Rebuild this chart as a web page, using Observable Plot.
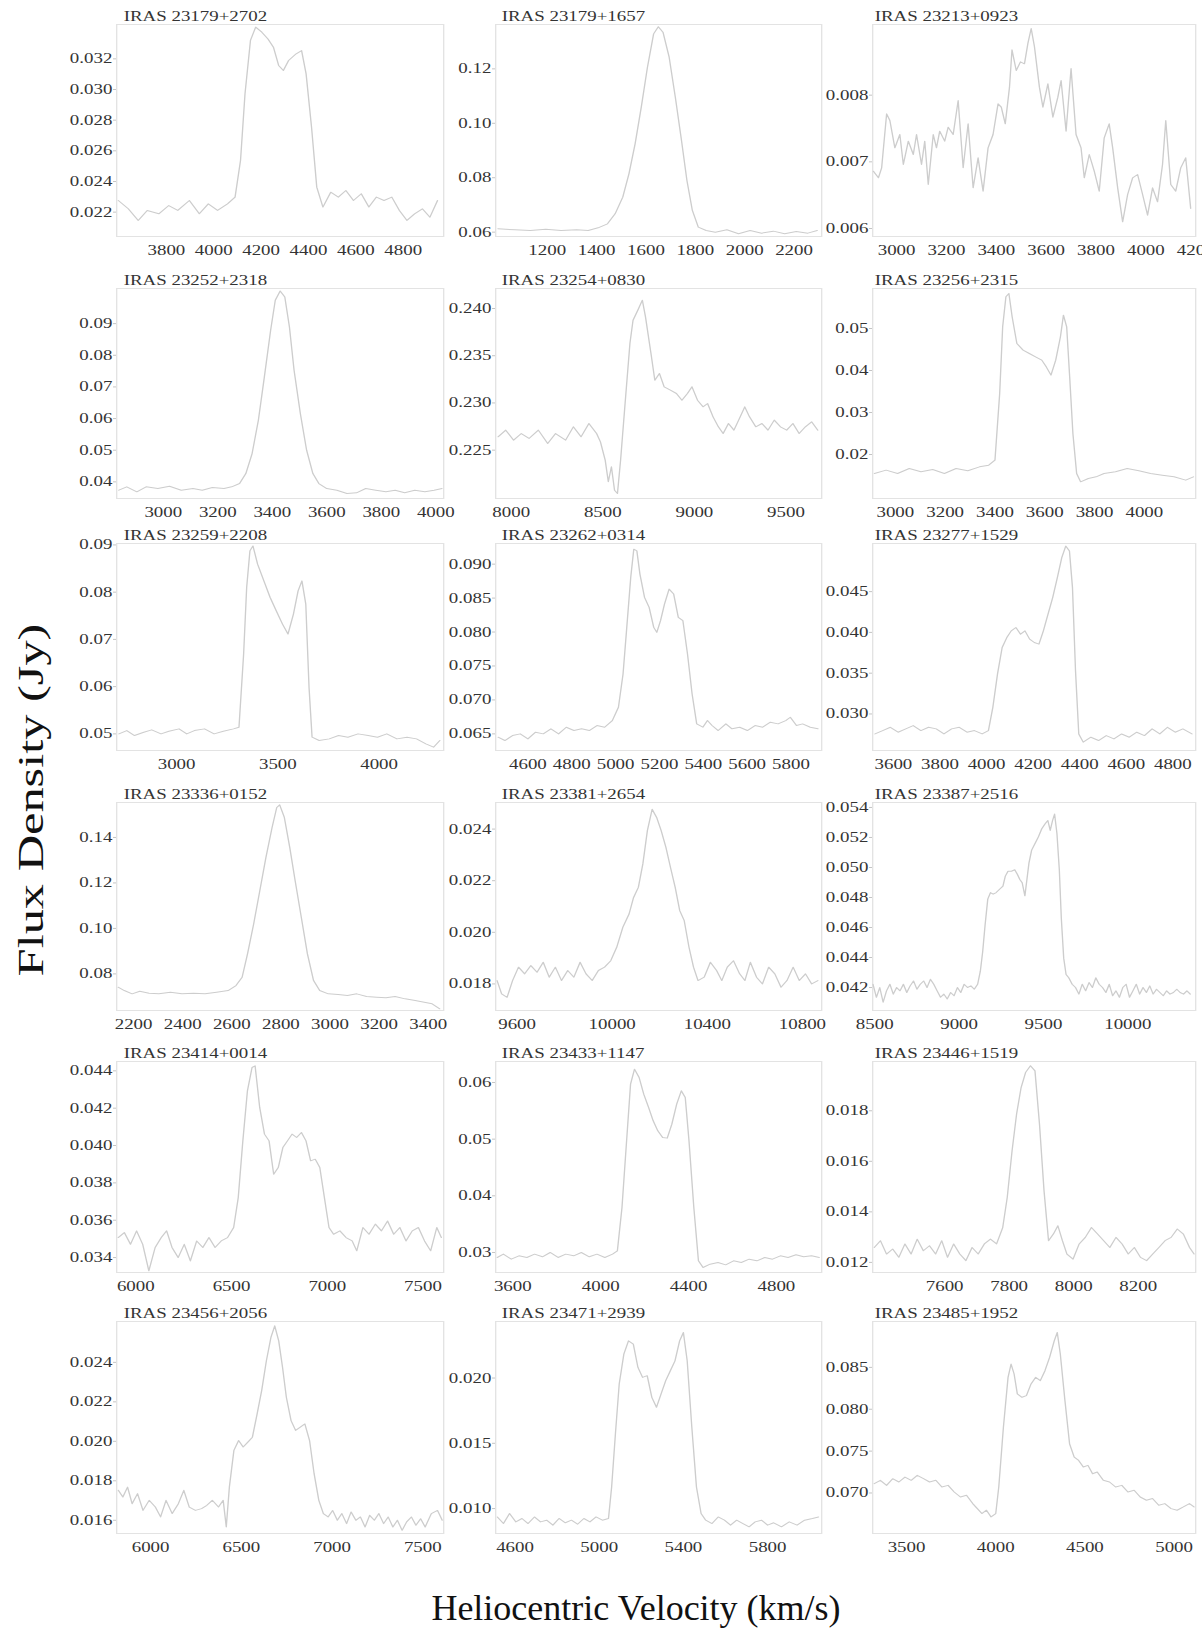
<!DOCTYPE html>
<html><head><meta charset="utf-8">
<script src="https://cdn.jsdelivr.net/npm/d3@7"></script>
<script src="https://cdn.jsdelivr.net/npm/@observablehq/plot@0.6"></script>
<style>
html,body{margin:0;padding:0;background:#fff;overflow:hidden;}
#page{position:relative;width:1202px;height:1631px;overflow:hidden;font-family:'Liberation Serif','Times New Roman',serif;background:#fff;}
.axlab{position:absolute;font-size:36px;color:#111;white-space:nowrap;line-height:1;font-family:'Liberation Serif','Times New Roman',serif;}
</style></head><body><div id="page"></div>
<script>
const titles = ["IRAS 23179+2702","IRAS 23179+1657","IRAS 23213+0923","IRAS 23252+2318","IRAS 23254+0830","IRAS 23256+2315","IRAS 23259+2208","IRAS 23262+0314","IRAS 23277+1529","IRAS 23336+0152","IRAS 23381+2654","IRAS 23387+2516","IRAS 23414+0014","IRAS 23433+1147","IRAS 23446+1519","IRAS 23456+2056","IRAS 23471+2939","IRAS 23485+1952"];

const v01=[3597,3639,3681,3719,3768,3810,3848,3897,3939,3977,4016,4058,4090,4113,4132,4155,4177,4203,4229,4252,4274,4294,4316,4348,4371,4390,4413,4435,4461,4494,4526,4558,4590,4623,4655,4687,4719,4752,4784,4816,4848,4881,4913,4945];
const f01=[0.02276,0.02222,0.02146,0.02211,0.02189,0.02243,0.02211,0.02276,0.02189,0.02254,0.02211,0.02254,0.02298,0.02537,0.02972,0.0332,0.03407,0.03374,0.0333,0.03276,0.03157,0.03124,0.03189,0.03233,0.03254,0.03102,0.02754,0.02363,0.02233,0.0233,0.02298,0.02341,0.02276,0.0232,0.02233,0.02298,0.02276,0.02298,0.02211,0.02146,0.02189,0.02222,0.02167,0.02276];
const v02=[1000,1069,1131,1194,1256,1319,1366,1406,1444,1475,1506,1531,1556,1581,1606,1631,1650,1669,1694,1719,1744,1766,1788,1812,1844,1881,1928,1975,2022,2069,2116,2162,2209,2256,2294];
const f02=[0.06123,0.06087,0.06061,0.0611,0.06061,0.06086,0.06061,0.06159,0.06306,0.06674,0.07286,0.08143,0.09245,0.10592,0.12061,0.13286,0.1355,0.13347,0.12429,0.10959,0.09367,0.07898,0.06796,0.06184,0.06061,0.06,0.06086,0.05939,0.06061,0.05963,0.06037,0.05939,0.06025,0.05963,0.06061];
const v03=[2907,2927,2940,2960,2973,2993,3013,3027,3047,3067,3080,3100,3113,3127,3147,3160,3173,3193,3207,3227,3247,3267,3287,3307,3327,3347,3367,3387,3407,3420,3436,3453,3463,3480,3497,3513,3527,3540,3553,3573,3587,3607,3627,3647,3660,3680,3700,3720,3740,3753,3773,3793,3813,3833,3853,3867,3887,3907,3927,3947,3967,3987,4007,4027,4047,4067,4080,4100,4120,4140,4160,4180];
const f03=[0.00686,0.00676,0.00691,0.00772,0.00762,0.00721,0.00741,0.00696,0.00731,0.00711,0.00741,0.00696,0.00731,0.00666,0.00741,0.00721,0.00746,0.00731,0.00752,0.00741,0.00792,0.00691,0.00757,0.00661,0.00706,0.00656,0.00721,0.00741,0.00787,0.00782,0.00757,0.00812,0.00868,0.00837,0.0085,0.00847,0.00878,0.009,0.00873,0.00812,0.00782,0.00817,0.00767,0.00797,0.00822,0.00746,0.0084,0.00741,0.00721,0.00676,0.00711,0.00686,0.00656,0.00736,0.00757,0.00721,0.00661,0.0061,0.00651,0.00676,0.00681,0.00651,0.0062,0.00661,0.0064,0.00696,0.00762,0.00666,0.00656,0.00691,0.00706,0.0063];
const v04=[2837,2866,2903,2937,2980,3023,3066,3109,3143,3180,3223,3251,3280,3303,3326,3349,3371,3394,3411,3429,3446,3463,3480,3503,3526,3549,3571,3600,3637,3674,3709,3743,3780,3817,3851,3886,3923,3960,3994,4023];
const f04=[0.03737,0.03842,0.03684,0.03842,0.03789,0.03863,0.03737,0.03789,0.03737,0.03821,0.03789,0.03842,0.03947,0.04263,0.04895,0.05947,0.07316,0.08789,0.09737,0.1003,0.09842,0.08895,0.07526,0.06158,0.05,0.04263,0.03947,0.03789,0.03737,0.03632,0.03653,0.03789,0.03737,0.03684,0.03737,0.03653,0.03737,0.03684,0.03737,0.03789];
const v05=[7928,7970,8013,8055,8097,8148,8199,8242,8297,8339,8381,8424,8466,8487,8513,8530,8547,8564,8580,8597,8623,8648,8665,8691,8716,8733,8763,8784,8809,8835,8869,8902,8932,8962,8987,9017,9047,9072,9102,9131,9157,9186,9216,9250,9275,9301,9335,9369,9402,9436,9470,9504,9538,9572,9606,9640,9674];
const f05=[0.22641,0.22712,0.22606,0.22676,0.22624,0.22712,0.22571,0.22676,0.22606,0.22747,0.22641,0.22782,0.22676,0.22588,0.22394,0.22165,0.22324,0.22076,0.22041,0.22394,0.23029,0.23629,0.23876,0.23982,0.24088,0.23912,0.23524,0.23241,0.23312,0.23171,0.23135,0.231,0.23029,0.231,0.23171,0.23029,0.22959,0.22994,0.22853,0.22747,0.22676,0.22782,0.22712,0.22853,0.22959,0.22853,0.22747,0.22782,0.22712,0.22818,0.22747,0.22712,0.22782,0.22676,0.22747,0.228,0.22712];
const v06=[2916,2963,3009,3056,3103,3150,3197,3244,3291,3338,3375,3400,3419,3431,3444,3456,3469,3488,3513,3538,3563,3588,3606,3625,3644,3663,3675,3688,3700,3713,3728,3744,3775,3806,3838,3884,3931,3978,4025,4072,4119,4166,4197];
const f06=[0.01548,0.01627,0.01548,0.01667,0.01587,0.01643,0.01548,0.01667,0.01611,0.01706,0.01746,0.01865,0.03452,0.0504,0.05754,0.05833,0.05278,0.04643,0.04484,0.04405,0.04325,0.04246,0.04087,0.03889,0.04246,0.04802,0.05317,0.0504,0.03849,0.025,0.01548,0.01349,0.01429,0.01468,0.01548,0.01587,0.01667,0.01611,0.01548,0.01508,0.01468,0.01389,0.01468];
const v07=[2715,2754,2792,2838,2877,2923,2962,3012,3050,3088,3138,3185,3231,3281,3308,3331,3346,3362,3377,3400,3431,3462,3492,3523,3550,3577,3600,3619,3638,3654,3669,3704,3754,3800,3846,3896,3946,3992,4038,4088,4138,4185,4231,4269,4300];
const f07=[0.05,0.0507,0.04965,0.05035,0.05085,0.05,0.05056,0.05106,0.05,0.0507,0.05106,0.05,0.05056,0.05106,0.05141,0.0669,0.08099,0.08873,0.08979,0.08592,0.08239,0.07887,0.07606,0.07324,0.07113,0.07535,0.08028,0.08239,0.07746,0.05986,0.0493,0.04859,0.04894,0.04965,0.0493,0.05,0.04965,0.0493,0.05,0.04894,0.0493,0.04894,0.04789,0.04718,0.04859];
const v08=[4464,4495,4530,4565,4600,4635,4670,4705,4740,4775,4810,4845,4880,4915,4950,4985,5013,5034,5051,5069,5083,5097,5111,5132,5153,5174,5188,5205,5223,5244,5265,5286,5307,5328,5349,5370,5398,5419,5440,5468,5503,5531,5566,5601,5636,5671,5706,5741,5776,5797,5825,5853,5888,5923];
const f08=[0.06451,0.06402,0.06475,0.065,0.06426,0.06525,0.065,0.06574,0.065,0.06598,0.06549,0.06574,0.06549,0.06623,0.06598,0.06696,0.06892,0.07382,0.08069,0.08804,0.09221,0.09196,0.08853,0.0851,0.08363,0.08069,0.07995,0.08167,0.08412,0.08632,0.08559,0.08216,0.08167,0.07676,0.07088,0.06647,0.06598,0.06696,0.06623,0.06549,0.06647,0.06574,0.06598,0.06549,0.06623,0.06598,0.06672,0.06647,0.06696,0.06745,0.06623,0.06647,0.06598,0.06574];
const v09=[3521,3554,3587,3620,3653,3685,3718,3751,3784,3817,3850,3883,3916,3948,3981,4008,4027,4047,4067,4087,4106,4126,4146,4165,4185,4205,4225,4244,4264,4284,4304,4323,4340,4356,4369,4382,4396,4415,4448,4481,4514,4547,4580,4613,4645,4678,4711,4744,4777,4810,4843,4882];
const f09=[0.02755,0.02796,0.02837,0.02776,0.02817,0.02857,0.02796,0.02837,0.02817,0.02755,0.02817,0.02837,0.02776,0.02796,0.02755,0.02796,0.03081,0.03489,0.03815,0.03937,0.04019,0.0406,0.03978,0.04019,0.03917,0.03876,0.03856,0.04019,0.04223,0.04427,0.04671,0.04916,0.05058,0.04997,0.04549,0.0353,0.02755,0.02654,0.02715,0.02674,0.02735,0.02694,0.02755,0.02715,0.02776,0.02735,0.02817,0.02755,0.02837,0.02776,0.02817,0.02755];
const v10=[2137,2162,2194,2225,2263,2303,2350,2397,2444,2491,2538,2585,2617,2642,2664,2689,2714,2739,2764,2783,2795,2814,2836,2858,2883,2908,2933,2958,2993,3033,3071,3109,3149,3190,3228,3265,3306,3347,3384,3416,3447];
const f10=[0.07414,0.07268,0.07122,0.07239,0.07151,0.07122,0.07195,0.07122,0.07151,0.07122,0.07195,0.07268,0.07487,0.07853,0.08878,0.10195,0.11658,0.13122,0.14439,0.15317,0.15434,0.14878,0.13561,0.12097,0.10488,0.08878,0.07707,0.07268,0.07122,0.07092,0.07049,0.07122,0.07005,0.06975,0.06946,0.07005,0.06902,0.06829,0.06756,0.06683,0.06463];
const v11=[9516,9535,9558,9581,9606,9632,9658,9684,9710,9735,9761,9787,9813,9839,9865,9890,9916,9942,9968,9994,10019,10045,10071,10090,10110,10129,10148,10168,10187,10206,10226,10245,10265,10284,10303,10323,10342,10361,10387,10413,10439,10461,10484,10510,10536,10558,10581,10607,10632,10658,10684,10710,10735,10761,10787,10813,10839,10865];
const f11=[0.01813,0.01761,0.01748,0.01813,0.01865,0.01839,0.01871,0.01845,0.01884,0.01826,0.01865,0.01813,0.01852,0.01826,0.01884,0.01839,0.01813,0.01852,0.01865,0.0189,0.01942,0.0202,0.02071,0.02135,0.02174,0.02265,0.02394,0.02477,0.02445,0.02394,0.02329,0.02252,0.02174,0.02084,0.02045,0.01942,0.01865,0.01813,0.01826,0.01884,0.01852,0.01813,0.01865,0.0189,0.01839,0.01813,0.01884,0.01826,0.018,0.01865,0.01839,0.01787,0.01813,0.01865,0.01813,0.01839,0.018,0.01813];
const v12=[8490,8510,8530,8550,8570,8590,8610,8630,8650,8670,8690,8710,8730,8750,8770,8790,8810,8830,8850,8870,8890,8910,8930,8950,8970,8990,9010,9030,9050,9070,9090,9110,9126,9140,9154,9170,9186,9202,9220,9240,9260,9274,9290,9310,9330,9346,9360,9374,9390,9402,9414,9430,9450,9470,9490,9510,9526,9540,9554,9566,9580,9594,9606,9620,9634,9650,9670,9690,9710,9730,9750,9770,9790,9810,9830,9850,9870,9890,9910,9930,9950,9970,9990,10010,10030,10050,10070,10090,10110,10130,10150,10170,10190,10210,10230,10250,10270,10290,10310,10330,10350,10370];
const f12=[0.04222,0.04135,0.042,0.04102,0.04178,0.04222,0.04156,0.042,0.04178,0.04222,0.04167,0.04211,0.04244,0.04189,0.04222,0.04244,0.042,0.04255,0.04222,0.04178,0.04135,0.04156,0.04124,0.04167,0.04145,0.042,0.04167,0.04222,0.042,0.04211,0.04189,0.04222,0.04309,0.0444,0.04615,0.04789,0.04833,0.04822,0.04833,0.04855,0.04876,0.04942,0.04975,0.04975,0.04985,0.04953,0.0492,0.04898,0.04811,0.0492,0.05029,0.05116,0.0516,0.05204,0.05258,0.05291,0.05313,0.05247,0.05313,0.05356,0.05225,0.04985,0.04658,0.04396,0.04287,0.04265,0.04222,0.042,0.04156,0.04222,0.04178,0.04233,0.042,0.04265,0.04222,0.042,0.04167,0.04222,0.04145,0.04178,0.04135,0.042,0.04222,0.04135,0.04178,0.04222,0.04156,0.042,0.04167,0.04211,0.04156,0.04189,0.04167,0.04145,0.04178,0.04156,0.04167,0.04189,0.04167,0.04156,0.04178,0.04156];
const v13=[5908,5940,5972,6004,6036,6068,6101,6133,6161,6189,6221,6253,6285,6318,6350,6382,6414,6446,6479,6511,6535,6559,6583,6607,6623,6647,6672,6696,6720,6744,6768,6792,6816,6840,6865,6889,6913,6937,6961,6985,7009,7033,7066,7098,7130,7154,7186,7218,7251,7283,7315,7347,7379,7411,7444,7476,7508,7540,7572,7596];
const f13=[0.03507,0.03534,0.03471,0.03543,0.03471,0.03329,0.03454,0.03507,0.03543,0.03454,0.034,0.03471,0.03382,0.03489,0.03454,0.03507,0.03454,0.03489,0.03507,0.03561,0.03721,0.04025,0.04293,0.04418,0.04427,0.04204,0.04061,0.04025,0.03846,0.03882,0.03989,0.04025,0.04061,0.04043,0.0407,0.04025,0.03918,0.03927,0.03882,0.03721,0.03561,0.03525,0.03543,0.03507,0.03489,0.03436,0.03561,0.03525,0.03579,0.03543,0.03596,0.03525,0.03561,0.03489,0.03543,0.03561,0.03489,0.03436,0.03561,0.03507];
const v14=[3529,3557,3593,3628,3664,3699,3735,3770,3806,3841,3877,3912,3948,3983,4019,4054,4076,4097,4118,4136,4154,4175,4196,4218,4239,4260,4282,4303,4324,4346,4367,4385,4402,4424,4445,4466,4498,4534,4569,4605,4640,4676,4711,4747,4782,4818,4853,4889,4924,4960,4995];
const f14=[0.02912,0.02971,0.02882,0.02941,0.02912,0.02971,0.02924,0.03,0.02912,0.02971,0.02941,0.03,0.02924,0.02971,0.02912,0.02971,0.03029,0.03794,0.04971,0.05971,0.06235,0.06088,0.05794,0.05559,0.05324,0.05147,0.05029,0.05018,0.05265,0.05618,0.05853,0.05735,0.04971,0.03794,0.02853,0.02735,0.02794,0.02824,0.02782,0.02853,0.02824,0.02882,0.02853,0.02912,0.02882,0.02941,0.02912,0.02959,0.02924,0.02941,0.02912];
const v15=[7382,7401,7420,7439,7458,7477,7496,7515,7534,7553,7572,7591,7609,7628,7647,7666,7685,7704,7723,7742,7761,7780,7794,7809,7823,7837,7851,7866,7880,7894,7908,7922,7937,7951,7965,7979,7998,8017,8036,8055,8074,8093,8112,8131,8150,8169,8188,8207,8226,8245,8264,8283,8302,8321,8340,8359,8373];
const f15=[0.01259,0.01286,0.01233,0.01253,0.0122,0.01273,0.01233,0.01292,0.01246,0.01266,0.01233,0.01286,0.0122,0.01273,0.01233,0.01207,0.01259,0.01233,0.01273,0.01292,0.01273,0.01338,0.01457,0.01642,0.01787,0.01892,0.01952,0.01978,0.01958,0.01747,0.01484,0.01286,0.01312,0.01345,0.01286,0.01233,0.01213,0.01273,0.01299,0.01338,0.01312,0.01286,0.01259,0.01299,0.01273,0.01233,0.01259,0.0122,0.01207,0.01233,0.01259,0.01286,0.01299,0.01332,0.01312,0.01259,0.01233];
const v16=[5822,5847,5873,5898,5928,5958,5992,6026,6055,6085,6119,6153,6183,6213,6247,6281,6310,6340,6374,6400,6417,6434,6459,6485,6510,6536,6561,6587,6612,6638,6663,6684,6706,6727,6748,6774,6799,6825,6850,6876,6901,6927,6952,6978,7003,7029,7054,7080,7105,7131,7156,7182,7207,7233,7258,7284,7309,7335,7360,7386,7411,7437,7462,7488,7513,7547,7581,7607];
const f16=[0.01752,0.01718,0.01768,0.01684,0.01735,0.0165,0.01701,0.01667,0.01617,0.01701,0.01634,0.01684,0.01752,0.01667,0.0165,0.01659,0.01676,0.01701,0.01667,0.01701,0.01566,0.01768,0.01954,0.02004,0.01971,0.01996,0.02021,0.02139,0.02257,0.02408,0.02526,0.02585,0.02509,0.02375,0.02223,0.02105,0.02055,0.02072,0.02088,0.02004,0.01836,0.01701,0.01634,0.01617,0.0165,0.016,0.01634,0.01583,0.01642,0.016,0.01617,0.01566,0.01625,0.016,0.01634,0.01583,0.01617,0.01566,0.016,0.01549,0.01592,0.01617,0.01575,0.01608,0.01566,0.01634,0.0165,0.016];
const v17=[4516,4545,4574,4604,4633,4662,4692,4721,4750,4780,4809,4839,4868,4897,4927,4956,4985,5015,5044,5059,5077,5095,5117,5139,5162,5184,5206,5228,5250,5272,5294,5316,5338,5360,5382,5400,5418,5440,5462,5484,5506,5536,5565,5595,5624,5653,5683,5712,5741,5771,5800,5829,5866,5903,5940,5976,6013,6042];
const f17=[0.00936,0.00885,0.00962,0.00898,0.00924,0.00885,0.00936,0.00898,0.00911,0.00873,0.00924,0.00891,0.00911,0.0088,0.00924,0.00898,0.00936,0.00911,0.00924,0.01165,0.01573,0.01954,0.02183,0.02285,0.0226,0.02081,0.02005,0.02018,0.01852,0.01776,0.01878,0.0198,0.02056,0.02132,0.02285,0.02349,0.02132,0.01623,0.01165,0.00962,0.00911,0.00885,0.00936,0.00911,0.00873,0.00911,0.00885,0.0086,0.00898,0.00911,0.00873,0.00891,0.0086,0.00898,0.00873,0.00911,0.00924,0.00936];
const v18=[3319,3353,3388,3422,3457,3491,3526,3560,3595,3629,3664,3698,3733,3767,3802,3836,3871,3897,3922,3948,3974,4000,4017,4043,4069,4086,4103,4121,4147,4172,4198,4224,4250,4276,4302,4328,4345,4362,4388,4414,4440,4465,4491,4517,4543,4569,4603,4638,4672,4707,4741,4776,4810,4845,4879,4914,4948,4983,5017,5052,5086,5112];
const f18=[0.07111,0.07151,0.07091,0.07171,0.07131,0.0719,0.07151,0.0721,0.07171,0.07131,0.07151,0.07071,0.07091,0.07012,0.06952,0.06972,0.06873,0.06813,0.06754,0.06794,0.06714,0.06754,0.07071,0.07786,0.08381,0.0854,0.08421,0.08183,0.08143,0.08163,0.08302,0.08381,0.08341,0.0846,0.08619,0.08817,0.08917,0.08659,0.08103,0.07587,0.07429,0.07389,0.0731,0.0733,0.0723,0.0725,0.07151,0.07131,0.07071,0.07091,0.07012,0.07032,0.06952,0.06913,0.06933,0.06853,0.06873,0.06813,0.06794,0.06833,0.06873,0.06833];

const vels=[v01,v02,v03,v04,v05,v06,v07,v08,v09,v10,v11,v12,v13,v14,v15,v16,v17,v18];
const fluxes=[f01,f02,f03,f04,f05,f06,f07,f08,f09,f10,f11,f12,f13,f14,f15,f16,f17,f18];

const xDomains=[[3590,4971],[991,2312],[2904,4200],[2829,4029],[7915,9695],[2909,4206],[2704,4319],[4453,5940],[3511,4898],[2131,3463],[9510,10881],[8488,10402],[5900,7608],[3522,5006],[7377,8378],[5813,7615],[4508,6057],[3310,5121]];
const yDomains=[[0.02041,0.03424],[0.0584,0.1363],[0.00588,0.00906],[0.03474,0.1011],[0.21988,0.24212],[0.00952,0.05952],[0.04648,0.0903],[0.06255,0.09304],[0.02552,0.0509],[0.0639,0.15537],[0.01697,0.02503],[0.04047,0.05433],[0.0332,0.0445],[0.02647,0.0637],[0.0116,0.01995],[0.01533,0.02607],[0.00809,0.02433],[0.06516,0.09048]];
const xTicks=[
 [3800,4000,4200,4400,4600,4800],[1200,1400,1600,1800,2000,2200],[3000,3200,3400,3600,3800,4000,4200],
 [3000,3200,3400,3600,3800,4000],[8000,8500,9000,9500],[3000,3200,3400,3600,3800,4000],
 [3000,3500,4000],[4600,4800,5000,5200,5400,5600,5800],[3600,3800,4000,4200,4400,4600,4800],
 [2200,2400,2600,2800,3000,3200,3400],[9600,10000,10400,10800],[8500,9000,9500,10000],
 [6000,6500,7000,7500],[3600,4000,4400,4800],[7600,7800,8000,8200],
 [6000,6500,7000,7500],[4600,5000,5400,5800],[3500,4000,4500,5000]];
const yTicks=[
 [0.022,0.024,0.026,0.028,0.030,0.032],[0.06,0.08,0.10,0.12],[0.006,0.007,0.008],
 [0.04,0.05,0.06,0.07,0.08,0.09],[0.225,0.230,0.235,0.240],[0.02,0.03,0.04,0.05],
 [0.05,0.06,0.07,0.08,0.09],[0.065,0.070,0.075,0.080,0.085,0.090],[0.030,0.035,0.040,0.045],
 [0.08,0.10,0.12,0.14],[0.018,0.020,0.022,0.024],[0.042,0.044,0.046,0.048,0.050,0.052,0.054],
 [0.034,0.036,0.038,0.040,0.042,0.044],[0.03,0.04,0.05,0.06],[0.012,0.014,0.016,0.018],
 [0.016,0.018,0.020,0.022,0.024],[0.010,0.015,0.020],[0.070,0.075,0.080,0.085]];
const yDigits=[3,2,3,2,3,2,2,3,3,2,3,3,3,2,3,3,3,3];

// layout
const SX=1.35;
const rowTop=[24,288,543,802,1061,1321], rowBot=[236,498,750,1010,1272,1533];
const colL=[116,495,872], colR=[443,821,1195];
const titleDx=[7,6,2];
const ML=62, MR=14, MT=26, MB=30;
const page=document.getElementById("page");

titles.forEach((t,i)=>{
  const r=Math.floor(i/3), c=i%3;
  const L=colL[c], R=colR[c], T=rowTop[r], B=rowBot[r];
  const W=R-L+ML+MR, H=B-T+MT+MB;
  const n=Math.min(vels[i].length, fluxes[i].length);
  const data=vels[i].slice(0,n).map((v,k)=>({v, f:fluxes[i][k]}));
  const fmt=d3.format("."+yDigits[i]+"f");
  const svg=Plot.plot({
    width:W/SX, height:H,
    marginLeft:ML/SX, marginRight:MR/SX, marginTop:MT, marginBottom:MB,
    x:{domain:xDomains[i]}, y:{domain:yDomains[i]},
    style:{fontFamily:"'Liberation Serif','Times New Roman',serif", fontSize:"14px", color:"#333", background:"transparent", overflow:"visible"},
    marks:[
      Plot.frame({stroke:"#e3e3e3"}),
      Plot.line(data,{x:"v",y:"f",stroke:"#cdcdcd",strokeWidth:1,clip:true}),
      Plot.axisX(xTicks[i],{tickSize:0,tickPadding:9,label:null,tickFormat:d=>String(d),fontSize:14}),
      Plot.axisY(yTicks[i],{tickSize:2.2,tickPadding:1,stroke:"#c4c4c4",label:null,tickFormat:fmt,fontSize:14}),
      Plot.text([t],{text:d=>d,frameAnchor:"top-left",dx:titleDx[c]/SX,dy:-8,textAnchor:"start",lineAnchor:"middle",fontSize:14,fill:"#333"})
    ]
  });
  svg.setAttribute("preserveAspectRatio","none");
  svg.style.position="absolute";
  svg.style.left=(L-ML)+"px";
  svg.style.top=(T-MT)+"px";
  svg.style.width=W+"px";
  svg.style.height=H+"px";
  svg.style.maxWidth="none";
  page.appendChild(svg);
});

const yl=document.createElement("div");
yl.className="axlab";
yl.textContent="Flux Density (Jy)";
yl.style.left="31px"; yl.style.top="800px";
yl.style.transform="translate(-50%,-50%) rotate(-90deg) scaleX(1.4)";
page.appendChild(yl);

const xl=document.createElement("div");
xl.className="axlab";
xl.textContent="Heliocentric Velocity (km/s)";
xl.style.left="636px"; xl.style.top="1608px";
xl.style.transform="translate(-50%,-50%)";
page.appendChild(xl);
</script></body></html>
